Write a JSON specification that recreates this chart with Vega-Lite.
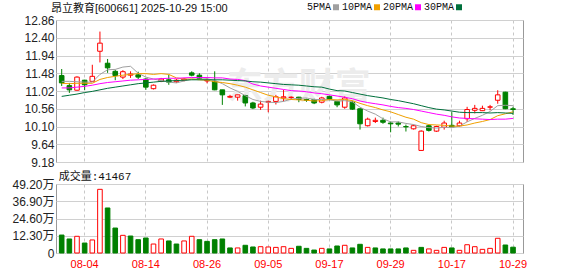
{
  "$schema": "https://vega.github.io/schema/vega-lite/v6.json",
  "autosize": {"type": "pad"},
  "padding": {"left": 11, "top": 2, "right": 55, "bottom": 5},
  "background": "white",
  "bounds": "flush",
  "spacing": 22,
  "config": {
    "view": {"stroke": "#999999", "strokeWidth": 1},
    "axis": {"labelFont": "Liberation Sans", "labelFontSize": 12, "labelColor": "#222222", "ticks": false, "domain": false, "gridColor": "#d0d0d0", "gridWidth": 1, "labelOverlap": false},
    "axisY": {"labelOverlap": false},
    "axisQuantitative": {"labelOverlap": false},
    "font": "Liberation Sans"
  },
  "data": {"values": [
    {"d":"07-30","o":11.42,"h":11.59,"l":11.15,"c":11.23,"v":12.8,"vd":"d","ma5":11.27,"ma10":11.22,"ma20":11.10,"ma30":10.88},
    {"d":"07-31","o":11.16,"h":11.23,"l":10.97,"c":11.05,"v":10.0,"vd":"d","ma5":11.27,"ma10":11.21,"ma20":11.10,"ma30":10.91},
    {"d":"08-01","o":11.04,"h":11.40,"l":11.03,"c":11.38,"v":11.9,"vd":"u","ma5":11.26,"ma10":11.22,"ma20":11.12,"ma30":10.94},
    {"d":"08-04","o":11.30,"h":11.31,"l":11.04,"c":11.18,"v":7.1,"vd":"d","ma5":11.25,"ma10":11.22,"ma20":11.14,"ma30":10.98},
    {"d":"08-05","o":11.27,"h":11.70,"l":11.25,"c":11.40,"v":9.3,"vd":"u","ma5":11.25,"ma10":11.22,"ma20":11.17,"ma30":11.01},
    {"d":"08-06","o":12.05,"h":12.56,"l":11.76,"c":12.26,"v":45.4,"vd":"u","ma5":11.45,"ma10":11.32,"ma20":11.21,"ma30":11.05},
    {"d":"08-07","o":11.74,"h":11.85,"l":11.49,"c":11.62,"v":32.1,"vd":"d","ma5":11.57,"ma10":11.37,"ma20":11.24,"ma30":11.09},
    {"d":"08-08","o":11.53,"h":11.57,"l":11.30,"c":11.42,"v":17.8,"vd":"d","ma5":11.58,"ma10":11.40,"ma20":11.26,"ma30":11.12},
    {"d":"08-11","o":11.38,"h":11.56,"l":11.33,"c":11.52,"v":12.6,"vd":"u","ma5":11.64,"ma10":11.43,"ma20":11.28,"ma30":11.15},
    {"d":"08-12","o":11.43,"h":11.53,"l":11.36,"c":11.46,"v":12.1,"vd":"d","ma5":11.66,"ma10":11.45,"ma20":11.30,"ma30":11.18},
    {"d":"08-13","o":11.44,"h":11.52,"l":11.33,"c":11.38,"v":9.5,"vd":"d","ma5":11.48,"ma10":11.47,"ma20":11.31,"ma30":11.21},
    {"d":"08-14","o":11.33,"h":11.35,"l":11.05,"c":11.12,"v":10.7,"vd":"d","ma5":11.38,"ma10":11.47,"ma20":11.32,"ma30":11.23},
    {"d":"08-15","o":11.08,"h":11.19,"l":11.06,"c":11.17,"v":6.4,"vd":"u","ma5":11.33,"ma10":11.45,"ma20":11.33,"ma30":11.25},
    {"d":"08-18","o":11.27,"h":11.36,"l":11.25,"c":11.33,"v":10.0,"vd":"u","ma5":11.29,"ma10":11.47,"ma20":11.34,"ma30":11.27},
    {"d":"08-19","o":11.31,"h":11.44,"l":11.18,"c":11.25,"v":8.6,"vd":"d","ma5":11.25,"ma10":11.45,"ma20":11.35,"ma30":11.28},
    {"d":"08-20","o":11.26,"h":11.33,"l":11.23,"c":11.30,"v":6.4,"vd":"d","ma5":11.23,"ma10":11.36,"ma20":11.35,"ma30":11.29},
    {"d":"08-21","o":11.30,"h":11.36,"l":11.27,"c":11.33,"v":8.6,"vd":"u","ma5":11.28,"ma10":11.33,"ma20":11.36,"ma30":11.30},
    {"d":"08-22","o":11.49,"h":11.53,"l":11.40,"c":11.43,"v":11.9,"vd":"u","ma5":11.33,"ma10":11.33,"ma20":11.37,"ma30":11.31},
    {"d":"08-25","o":11.43,"h":11.48,"l":11.31,"c":11.34,"v":9.5,"vd":"d","ma5":11.33,"ma10":11.31,"ma20":11.37,"ma30":11.31},
    {"d":"08-26","o":11.28,"h":11.36,"l":11.22,"c":11.30,"v":8.3,"vd":"d","ma5":11.34,"ma10":11.30,"ma20":11.37,"ma30":11.31},
    {"d":"08-27","o":11.27,"h":11.53,"l":11.04,"c":11.05,"v":9.5,"vd":"d","ma5":11.29,"ma10":11.26,"ma20":11.36,"ma30":11.31},
    {"d":"08-28","o":11.05,"h":11.05,"l":10.66,"c":10.92,"v":10.0,"vd":"d","ma5":11.21,"ma10":11.24,"ma20":11.36,"ma30":11.31},
    {"d":"08-29","o":10.86,"h":10.92,"l":10.84,"c":10.88,"v":3.6,"vd":"d","ma5":11.10,"ma10":11.21,"ma20":11.33,"ma30":11.30},
    {"d":"09-01","o":10.86,"h":10.92,"l":10.77,"c":10.92,"v":3.6,"vd":"u","ma5":11.01,"ma10":11.17,"ma20":11.32,"ma30":11.29},
    {"d":"09-02","o":10.90,"h":10.92,"l":10.62,"c":10.71,"v":5.5,"vd":"d","ma5":10.90,"ma10":11.12,"ma20":11.29,"ma30":11.28},
    {"d":"09-03","o":10.71,"h":10.74,"l":10.55,"c":10.58,"v":4.3,"vd":"d","ma5":10.80,"ma10":11.05,"ma20":11.20,"ma30":11.26},
    {"d":"09-04","o":10.60,"h":10.77,"l":10.53,"c":10.68,"v":4.5,"vd":"u","ma5":10.75,"ma10":10.98,"ma20":11.15,"ma30":11.25},
    {"d":"09-05","o":10.73,"h":10.77,"l":10.47,"c":10.75,"v":4.3,"vd":"u","ma5":10.73,"ma10":10.91,"ma20":11.12,"ma30":11.23},
    {"d":"09-08","o":10.75,"h":10.92,"l":10.67,"c":10.87,"v":4.0,"vd":"u","ma5":10.72,"ma10":10.87,"ma20":11.09,"ma30":11.21},
    {"d":"09-09","o":10.84,"h":11.05,"l":10.75,"c":10.87,"v":4.5,"vd":"u","ma5":10.75,"ma10":10.82,"ma20":11.06,"ma30":11.19},
    {"d":"09-10","o":10.85,"h":10.88,"l":10.80,"c":10.86,"v":3.3,"vd":"u","ma5":10.81,"ma10":10.80,"ma20":11.03,"ma30":11.18},
    {"d":"09-11","o":10.86,"h":10.87,"l":10.73,"c":10.80,"v":4.8,"vd":"d","ma5":10.83,"ma10":10.79,"ma20":11.02,"ma30":11.17},
    {"d":"09-12","o":10.80,"h":10.82,"l":10.74,"c":10.78,"v":3.3,"vd":"d","ma5":10.84,"ma10":10.78,"ma20":11.00,"ma30":11.15},
    {"d":"09-15","o":10.80,"h":10.82,"l":10.68,"c":10.71,"v":2.1,"vd":"d","ma5":10.80,"ma10":10.76,"ma20":10.97,"ma30":11.13},
    {"d":"09-16","o":10.73,"h":10.87,"l":10.70,"c":10.84,"v":3.3,"vd":"u","ma5":10.80,"ma10":10.77,"ma20":10.95,"ma30":11.12},
    {"d":"09-17","o":10.88,"h":10.90,"l":10.78,"c":10.80,"v":2.9,"vd":"d","ma5":10.79,"ma10":10.80,"ma20":10.92,"ma30":11.07},
    {"d":"09-18","o":10.75,"h":10.77,"l":10.60,"c":10.66,"v":5.0,"vd":"d","ma5":10.76,"ma10":10.79,"ma20":10.89,"ma30":11.03},
    {"d":"09-19","o":10.60,"h":10.88,"l":10.56,"c":10.84,"v":5.5,"vd":"u","ma5":10.77,"ma10":10.80,"ma20":10.86,"ma30":11.02},
    {"d":"09-22","o":10.73,"h":10.77,"l":10.53,"c":10.55,"v":3.6,"vd":"d","ma5":10.74,"ma10":10.77,"ma20":10.82,"ma30":10.98},
    {"d":"09-23","o":10.56,"h":10.56,"l":10.02,"c":10.17,"v":6.2,"vd":"d","ma5":10.60,"ma10":10.70,"ma20":10.76,"ma30":10.94},
    {"d":"09-24","o":10.12,"h":10.33,"l":10.10,"c":10.29,"v":4.0,"vd":"u","ma5":10.50,"ma10":10.64,"ma20":10.72,"ma30":10.90},
    {"d":"09-25","o":10.23,"h":10.33,"l":10.19,"c":10.26,"v":3.6,"vd":"d","ma5":10.42,"ma10":10.59,"ma20":10.69,"ma30":10.87},
    {"d":"09-26","o":10.26,"h":10.33,"l":10.17,"c":10.21,"v":2.9,"vd":"d","ma5":10.30,"ma10":10.53,"ma20":10.66,"ma30":10.84},
    {"d":"09-29","o":10.19,"h":10.23,"l":9.95,"c":10.17,"v":2.9,"vd":"d","ma5":10.22,"ma10":10.48,"ma20":10.62,"ma30":10.80},
    {"d":"09-30","o":10.19,"h":10.23,"l":10.10,"c":10.16,"v":2.9,"vd":"d","ma5":10.22,"ma10":10.41,"ma20":10.59,"ma30":10.77},
    {"d":"10-09","o":10.10,"h":10.15,"l":9.97,"c":10.09,"v":3.6,"vd":"d","ma5":10.18,"ma10":10.34,"ma20":10.57,"ma30":10.73},
    {"d":"10-10","o":10.04,"h":10.15,"l":10.02,"c":10.12,"v":1.9,"vd":"u","ma5":10.15,"ma10":10.29,"ma20":10.54,"ma30":10.69},
    {"d":"10-13","o":9.48,"h":10.00,"l":9.47,"c":9.98,"v":4.0,"vd":"d","ma5":10.10,"ma10":10.20,"ma20":10.50,"ma30":10.64},
    {"d":"10-14","o":10.12,"h":10.15,"l":9.97,"c":10.00,"v":2.9,"vd":"u","ma5":10.07,"ma10":10.15,"ma20":10.46,"ma30":10.59},
    {"d":"10-15","o":9.98,"h":10.12,"l":9.96,"c":10.10,"v":1.9,"vd":"u","ma5":10.06,"ma10":10.14,"ma20":10.42,"ma30":10.55},
    {"d":"10-16","o":10.08,"h":10.25,"l":10.02,"c":10.19,"v":4.0,"vd":"u","ma5":10.08,"ma10":10.13,"ma20":10.39,"ma30":10.53},
    {"d":"10-17","o":10.13,"h":10.47,"l":10.08,"c":10.09,"v":3.6,"vd":"d","ma5":10.07,"ma10":10.11,"ma20":10.35,"ma30":10.50},
    {"d":"10-20","o":10.12,"h":10.25,"l":10.10,"c":10.19,"v":1.9,"vd":"u","ma5":10.11,"ma10":10.11,"ma20":10.32,"ma30":10.47},
    {"d":"10-21","o":10.30,"h":10.61,"l":10.22,"c":10.54,"v":5.9,"vd":"u","ma5":10.22,"ma10":10.14,"ma20":10.31,"ma30":10.46},
    {"d":"10-22","o":10.52,"h":10.66,"l":10.44,"c":10.57,"v":4.5,"vd":"u","ma5":10.31,"ma10":10.19,"ma20":10.30,"ma30":10.46},
    {"d":"10-23","o":10.51,"h":10.64,"l":10.50,"c":10.57,"v":2.6,"vd":"u","ma5":10.39,"ma10":10.23,"ma20":10.29,"ma30":10.46},
    {"d":"10-24","o":10.60,"h":10.66,"l":10.52,"c":10.61,"v":3.3,"vd":"u","ma5":10.49,"ma10":10.28,"ma20":10.28,"ma30":10.45},
    {"d":"10-27","o":10.78,"h":11.04,"l":10.69,"c":10.92,"v":10.5,"vd":"u","ma5":10.64,"ma10":10.38,"ma20":10.29,"ma30":10.46},
    {"d":"10-28","o":10.99,"h":11.00,"l":10.55,"c":10.56,"v":5.7,"vd":"d","ma5":10.65,"ma10":10.43,"ma20":10.29,"ma30":10.45},
    {"d":"10-29","o":10.56,"h":10.61,"l":10.40,"c":10.54,"v":4.15,"vd":"d","ma5":10.64,"ma10":10.48,"ma20":10.31,"ma30":10.44}
  ]},
  "vconcat": [
    {
      "width": 467,
      "height": 142,
      "title": {"text": "昂立教育[600661] 2025-10-29 15:00", "anchor": "start", "frame": "group", "dx": -5, "offset": 0, "fontSize": 11, "fontWeight": "normal", "font": "Liberation Sans, Noto Sans CJK SC", "color": "#111111"},
      "encoding": {
        "x": {"field": "d", "type": "ordinal", "sort": "ascending",
          "scale": {"type": "band", "paddingInner": 0.4, "paddingOuter": 0.725, "align": 0.307},
          "axis": {"title": null, "values": ["08-04","08-14","08-26","09-05","09-17","09-29","10-17","10-29"], "labels": false, "ticks": false, "domain": false, "grid": true, "gridDash": [3,3], "gridColor": "#c8c8c8", "bandPosition": 0.5}}
      },
      "layer": [
        {
          "data": {"values": [{}]},
          "mark": {"type": "text", "font": "Noto Sans CJK SC", "fontSize": 36, "fontWeight": "bold", "fill": "#ececec", "align": "center", "baseline": "middle"},
          "encoding": {"x": {"datum": "09-11"},
            "y": {"datum": 11.1, "type": "quantitative", "scale": {"domain": [9.18, 12.86], "nice": false, "zero": false},
              "axis": {"title": null, "values": [9.18, 9.64, 10.10, 10.56, 11.02, 11.48, 11.94, 12.40, 12.86], "format": ".2f", "grid": true, "labelPadding": 2, "labelOverlap": false}},
            "text": {"value": "东方财富"}}
        },
        {
          "mark": {"type": "rule", "strokeWidth": 1},
          "encoding": {
            "y": {"field": "l", "type": "quantitative", "scale": {"domain": [9.18, 12.86], "nice": false, "zero": false},
              "axis": {"title": null, "values": [9.18, 9.64, 10.10, 10.56, 11.02, 11.48, 11.94, 12.40, 12.86], "format": ".2f", "grid": true, "labelPadding": 2, "labelOverlap": false}},
            "y2": {"field": "h"},
            "stroke": {"condition": {"test": "datum.c >= datum.o", "value": "#ff0000"}, "value": "#008000"}
          }
        },
        {
          "mark": {"type": "bar", "strokeWidth": 1},
          "encoding": {
            "y": {"field": "o", "type": "quantitative", "scale": {"domain": [9.18, 12.86], "nice": false, "zero": false},
              "axis": {"title": null, "values": [9.18, 9.64, 10.10, 10.56, 11.02, 11.48, 11.94, 12.40, 12.86], "format": ".2f", "grid": true, "labelPadding": 2, "labelOverlap": false}},
            "y2": {"field": "c"},
            "fill": {"condition": {"test": "datum.c >= datum.o", "value": "#ffffff"}, "value": "#008000"},
            "stroke": {"condition": {"test": "datum.c >= datum.o", "value": "#ff0000"}, "value": "#008000"}
          }
        },
        {
          "transform": [{"fold": ["ma5", "ma10", "ma20", "ma30"], "as": ["s", "mv"]}],
          "mark": {"type": "line", "strokeWidth": 1},
          "encoding": {
            "y": {"field": "mv", "type": "quantitative", "scale": {"domain": [9.18, 12.86], "nice": false, "zero": false},
              "axis": {"title": null, "values": [9.18, 9.64, 10.10, 10.56, 11.02, 11.48, 11.94, 12.40, 12.86], "format": ".2f", "grid": true, "labelPadding": 2, "labelOverlap": false}},
            "color": {"field": "s", "type": "nominal",
              "scale": {"domain": ["ma5", "ma10", "ma20", "ma30"], "range": ["#a0a0a0", "#f0a000", "#ff00ff", "#00703c"]},
              "legend": {"orient": "none", "legendX": 275, "legendY": -18, "direction": "horizontal", "title": null,
                "symbolType": "square", "symbolSize": 9, "symbolStrokeWidth": 3,
                "labelFont": "Liberation Mono", "labelFontSize": 10, "labelColor": "#111111",
                "labelAlign": "right", "labelOffset": -10, "columnPadding": -3,
                "labelExpr": "datum.label == 'ma5' ? '5PMA' : datum.label == 'ma10' ? '10PMA' : datum.label == 'ma20' ? '20PMA' : '30PMA'"}}
          }
        }
      ]
    },
    {
      "width": 467,
      "height": 69,
      "encoding": {
        "x": {"field": "d", "type": "ordinal", "sort": "ascending",
          "scale": {"type": "band", "paddingInner": 0.4, "paddingOuter": 0.725, "align": 0.307},
          "axis": {"title": null, "values": ["08-04","08-14","08-26","09-05","09-17","09-29","10-17","10-29"], "labelColor": "#ff0000", "labelFont": "Liberation Sans", "labelFontSize": 11, "labelPadding": 5, "labelAngle": 0, "ticks": false, "domain": false, "grid": true, "gridDash": [3,3], "gridColor": "#c8c8c8", "bandPosition": 0.5, "labelOverlap": false}}
      },
      "layer": [
        {
          "mark": {"type": "bar", "strokeWidth": 1},
          "encoding": {
            "y": {"field": "v", "type": "quantitative",
              "scale": {"domain": [0, 49.2], "nice": false},
              "axis": {"title": null, "values": [0, 12.3, 24.6, 36.9, 49.2], "labelExpr": "datum.value == 0 ? '0' : format(datum.value, '.2f') + '万'", "labelFont": "Liberation Sans, Noto Sans CJK SC", "grid": true, "labelPadding": 2, "labelOverlap": false}},
            "fill": {"condition": {"test": "datum.vd == 'u'", "value": "#ffffff"}, "value": "#008000"},
            "stroke": {"condition": {"test": "datum.vd == 'u'", "value": "#ff0000"}, "value": "#008000"}
          }
        },
        {
          "data": {"values": [{}]},
          "mark": {"type": "text", "align": "left", "baseline": "alphabetic", "dx": -3, "dy": -4, "font": "Liberation Mono, Noto Sans CJK SC", "fontSize": 11, "fill": "#111111"},
          "encoding": {"x": {"datum": "07-30"},
            "y": {"datum": 49.2, "type": "quantitative", "scale": {"domain": [0, 49.2], "nice": false},
              "axis": {"title": null, "values": [0, 12.3, 24.6, 36.9, 49.2], "labelExpr": "datum.value == 0 ? '0' : format(datum.value, '.2f') + '万'", "labelFont": "Liberation Sans, Noto Sans CJK SC", "grid": true, "labelPadding": 2, "labelOverlap": false}},
            "text": {"value": "成交量:41467"}}
        }
      ]
    }
  ]
}
